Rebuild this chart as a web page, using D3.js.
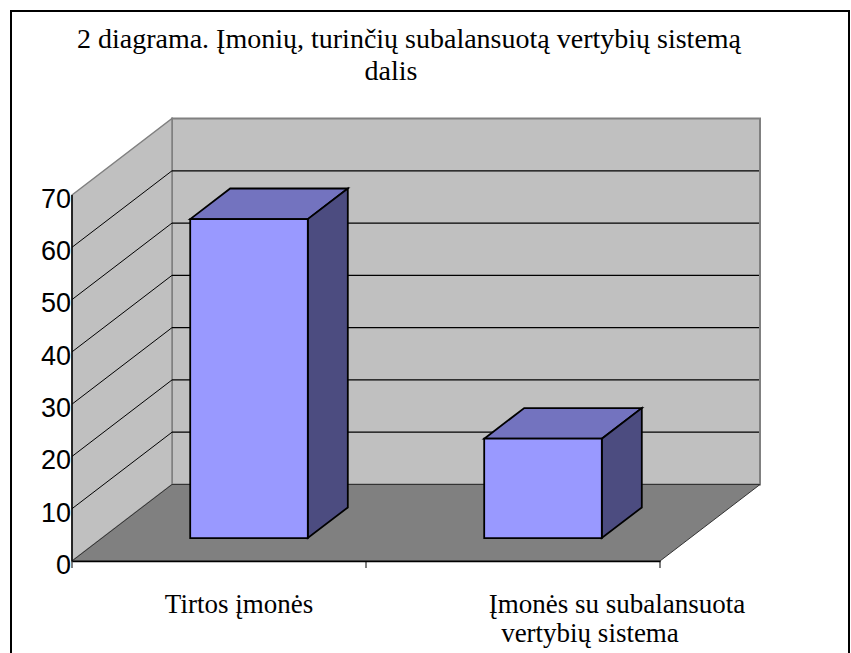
<!DOCTYPE html>
<html>
<head>
<meta charset="utf-8">
<script src="https://cdn.jsdelivr.net/npm/d3@7/dist/d3.min.js"></script>
<style>
  html, body { margin: 0; padding: 0; background: #fff; }
  svg { display: block; }
  .serif { font-family: 'Liberation Serif', 'Times New Roman', 'DejaVu Serif', serif; }
  .sans { font-family: 'Liberation Sans', Arial, sans-serif; }
</style>
</head>
<body>
<div id="chart"></div>
<script>
// chart data
const titleLines = ["2 diagrama. Įmonių, turinčių subalansuotą vertybių sistemą", "dalis"];
const categories = ["Tirtos įmonės", "Įmonės su subalansuota vertybių sistema"];
const categoryLines = [["Tirtos įmonės"], ["Įmonės su subalansuota", "vertybių sistema"]];
const values = [61, 19];
const yTicks = [0, 10, 20, 30, 40, 50, 60, 70];

const width = 851, height = 653;
const plot = { left: 72, right: 660, bottom: 561, top: 195 };
const depth = { dx: 100, dy: -76.5 };
const barDepth = [0.3, 0.7];
const barRatio = 0.4;

const colors = {
  wall: '#c0c0c0', wallEdge: '#808080', floor: '#808080',
  face: '#9999ff', top: '#7373bf', side: '#4c4c80'
};

const svg = d3.select('#chart').append('svg')
  .attr('width', width)
  .attr('height', height);

// outer frame
svg.append('path')
  .attr('d', `M11,${height + 5} L11,11 L849,11 L849,${height + 5}`)
  .attr('fill', 'none')
  .attr('stroke', '#000')
  .attr('stroke-width', 2);

const x = d3.scaleBand()
  .domain(categories)
  .range([plot.left, plot.right]);

const y = d3.scaleLinear()
  .domain([0, 70])
  .range([plot.bottom, plot.top]);

// project a point on the front plane back by depth fraction d
const proj = (px, py, d) => [px + d * depth.dx, py + d * depth.dy];
const poly = pts => 'M' + pts.map(p => p.join(',')).join('L') + 'Z';

const g = svg.append('g');

// back wall
g.append('path')
  .attr('d', poly([proj(plot.left, plot.top, 1), proj(plot.right, plot.top, 1),
                   proj(plot.right, plot.bottom, 1), proj(plot.left, plot.bottom, 1)]))
  .attr('fill', colors.wall)
  .attr('stroke', colors.wallEdge)
  .attr('stroke-width', 2);

// side wall
g.append('path')
  .attr('d', poly([proj(plot.left, plot.top, 0), proj(plot.left, plot.top, 1),
                   proj(plot.left, plot.bottom, 1), proj(plot.left, plot.bottom, 0)]))
  .attr('fill', colors.wall)
  .attr('stroke', colors.wallEdge)
  .attr('stroke-width', 1.5);

// floor
g.append('path')
  .attr('d', poly([proj(plot.left, plot.bottom, 0), proj(plot.right, plot.bottom, 0),
                   proj(plot.right, plot.bottom, 1), proj(plot.left, plot.bottom, 1)]))
  .attr('fill', colors.floor)
  .attr('stroke', '#333')
  .attr('stroke-width', 1);

// gridlines on side and back walls
const grid = yTicks.filter(t => t > 0 && t < 70);
g.selectAll('line.sideGrid')
  .data(grid)
  .join('line')
  .attr('class', 'sideGrid')
  .attr('x1', plot.left).attr('y1', d => y(d))
  .attr('x2', d => proj(plot.left, y(d), 1)[0]).attr('y2', d => proj(plot.left, y(d), 1)[1])
  .attr('stroke', '#000').attr('stroke-width', 1);

g.selectAll('line.backGrid')
  .data(grid)
  .join('line')
  .attr('class', 'backGrid')
  .attr('x1', d => proj(plot.left, y(d), 1)[0]).attr('y1', d => proj(plot.left, y(d), 1)[1])
  .attr('x2', d => proj(plot.right, y(d), 1)[0] - 1).attr('y2', d => proj(plot.right, y(d), 1)[1])
  .attr('stroke', '#000').attr('stroke-width', 1.2);

// axis lines
g.append('line')
  .attr('x1', plot.left).attr('y1', y(70)).attr('x2', plot.left).attr('y2', plot.bottom)
  .attr('stroke', '#000').attr('stroke-width', 1.5);

const xAxis = d3.axisBottom(x).tickSize(0).tickFormat('');
svg.append('g')
  .attr('transform', `translate(0,${plot.bottom})`)
  .call(xAxis)
  .call(a => a.select('.domain').attr('stroke', '#000').attr('stroke-width', 1.5));

// category boundary ticks
svg.selectAll('line.xtick')
  .data([plot.left, ...categories.map(c => x(c) + x.bandwidth())])
  .join('line')
  .attr('class', 'xtick')
  .attr('x1', d => d).attr('x2', d => d)
  .attr('y1', plot.bottom).attr('y2', plot.bottom + 7)
  .attr('stroke', '#000').attr('stroke-width', 1);

// y axis labels
const yAxis = d3.axisLeft(y).tickValues(yTicks).tickSize(0).tickPadding(1);
svg.append('g')
  .attr('transform', `translate(${plot.left},0)`)
  .call(yAxis)
  .call(a => a.select('.domain').remove())
  .call(a => a.selectAll('text')
    .attr('class', 'sans')
    .attr('font-family', null)
    .attr('font-size', 27)
    .attr('fill', '#000')
    .attr('dy', '0.46em'));

// bars
const bars = g.selectAll('g.bar')
  .data(categories.map((c, i) => ({ cat: c, value: values[i] })))
  .join('g')
  .attr('class', 'bar');

const bw = x.bandwidth() * barRatio;
const barPts = d => {
  const xl = x(d.cat) + (x.bandwidth() - bw) / 2, xr = xl + bw;
  const yt = y(d.value), yb = y(0);
  return { xl, xr, yt, yb };
};

bars.append('path')
  .attr('d', d => { const b = barPts(d);
    return poly([proj(b.xl, b.yt, barDepth[0]), proj(b.xl, b.yt, barDepth[1]),
                 proj(b.xr, b.yt, barDepth[1]), proj(b.xr, b.yt, barDepth[0])]); })
  .attr('fill', colors.top);

bars.append('path')
  .attr('d', d => { const b = barPts(d);
    return poly([proj(b.xr, b.yt, barDepth[0]), proj(b.xr, b.yt, barDepth[1]),
                 proj(b.xr, b.yb, barDepth[1]), proj(b.xr, b.yb, barDepth[0])]); })
  .attr('fill', colors.side);

bars.append('path')
  .attr('d', d => { const b = barPts(d);
    return poly([proj(b.xl, b.yt, barDepth[0]), proj(b.xr, b.yt, barDepth[0]),
                 proj(b.xr, b.yb, barDepth[0]), proj(b.xl, b.yb, barDepth[0])]); })
  .attr('fill', colors.face);

bars.selectAll('path')
  .attr('stroke', '#000')
  .attr('stroke-width', 1.8)
  .attr('stroke-linejoin', 'miter');

// title
svg.append('g')
  .selectAll('text')
  .data(titleLines)
  .join('text')
  .attr('class', 'serif')
  .attr('x', (d, i) => i === 0 ? 409 : 391)
  .attr('y', (d, i) => 48 + i * 32)
  .attr('text-anchor', 'middle')
  .attr('font-size', 28)
  .attr('fill', '#000')
  .text(d => d);

// category labels
const labelX = [[239], [617, 590]];
svg.selectAll('g.catLabel')
  .data(categoryLines)
  .join('g')
  .attr('class', 'catLabel')
  .selectAll('text')
  .data((d, i) => d.map((t, j) => ({ t, x: labelX[i][j], j })))
  .join('text')
  .attr('class', 'serif')
  .attr('x', d => d.x)
  .attr('y', d => 613 + d.j * 29)
  .attr('text-anchor', 'middle')
  .attr('font-size', 27)
  .attr('fill', '#000')
  .text(d => d.t);
</script>
</body>
</html>
